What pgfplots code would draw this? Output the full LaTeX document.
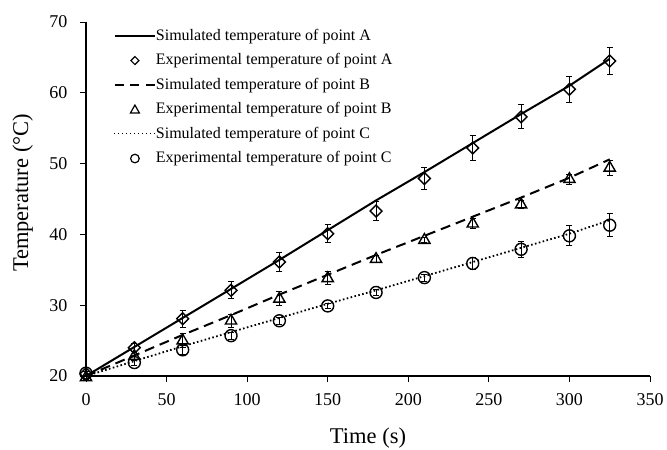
\documentclass[border=0pt]{standalone}
\usepackage{fontspec}
\setmainfont{Liberation Serif}
\usepackage{pgfplots}
\usepackage{pgfplotstable}
\pgfplotsset{compat=1.18}

% time (s), temperature (deg C), error
\pgfplotstableread{
t T e
0 20.3 0.3
30 24.0 0.6
60 28.1 1.2
90 32.1 1.2
120 36.1 1.3
150 40.1 1.3
180 43.3 1.4
210 47.9 1.5
240 52.2 1.7
270 56.6 1.7
300 60.5 1.8
325 64.5 1.9
}\expA
\pgfplotstableread{
t T e
0 19.8 0.3
30 22.8 0.6
60 25.0 1.0
90 27.8 0.9
120 30.9 1.0
150 33.8 0.9
180 36.5 0.5
210 39.2 0.4
240 41.5 0.7
270 44.2 0.6
300 47.8 0.7
325 49.4 1.1
}\expB
\pgfplotstableread{
t T e
0 20.4 0.3
30 21.9 0.4
60 23.7 0.6
90 25.7 0.5
120 27.8 0.5
150 29.9 0.4
180 31.8 0.4
210 33.9 0.5
240 35.9 0.8
270 37.9 1.1
300 39.8 1.4
325 41.3 1.6
}\expC
% simulated curves
\pgfplotstableread{
t A B C
0 20.0 20.0 20.0
30 24.1 22.9 22.1
60 28.2 25.8 24.2
90 32.3 28.6 26.2
120 36.4 31.5 28.2
150 40.6 34.3 30.2
180 44.8 37.1 32.1
210 48.8 39.8 34.1
240 52.9 42.5 36.1
270 57.0 45.2 38.1
300 61.0 48.0 40.1
325 64.8 50.6 42.0
}\sim

\newcommand\legfont{\fontsize{16}{18}\selectfont}

\begin{document}
\begin{tikzpicture}
\path[use as bounding box] (0,0) rectangle (667pt,-450pt);
\begin{axis}[
  scale only axis,
  width=564pt, height=354pt,
  anchor=south west, at={(86pt,-376pt)},
  xmin=0, xmax=350, ymin=20, ymax=70,
  xtick={0,50,...,350}, ytick={20,30,...,70},
  axis x line*=bottom, axis y line*=left,
  axis line style={line width=1.6pt, -},
  tick style={line width=1pt, black},
  tick align=outside, major tick length=6pt,
  /pgf/number format/assume math mode=true,
  ticklabel style={font=\fontsize{18}{20}\selectfont},
  xticklabel style={yshift=-8pt},
  yticklabel style={xshift=-9pt},
  xlabel={Time (s)}, ylabel={Temperature (°C)},
  label style={font=\fontsize{22.5}{24}\selectfont},
  xlabel style={at={(axis description cs:0.5,-0.192)}, anchor=base},
  ylabel style={at={(axis description cs:-0.1028,0.517)}, anchor=base},
  clip=false,
  legend cell align=left,
  legend style={draw=none, fill=none, at={(axis description cs:0.048,0.98)},
    anchor=north west, inner sep=0pt, row sep=10pt,
    font=\legfont,
    nodes={inner sep=0pt, text height=11pt, text depth=3.5pt, font=\legfont},
    /tikz/every even column/.append style={column sep=7pt}},
  error bars/error bar style={line width=1pt, black},
  error bars/error mark options={rotate=90, mark size=3pt, line width=1pt, black},
]
\addplot[black, line width=2pt,
  legend image code/.code={\draw[black, line width=2pt] (0pt,1pt) -- (40pt,1pt);}]
  table[x=t, y=A] {\sim};
\addlegendentry{Simulated temperature of point A}
\addplot[only marks, black, mark=square, mark size=4.2pt,
  mark options={rotate=45, line width=1.4pt, fill=none},
  error bars/.cd, y dir=both, y explicit,
  /pgfplots/legend image code/.code={\path[draw=none, fill=none] (0pt,1pt) -- (40pt,1pt);
    \draw[black, line width=1.2pt]
    (20pt,4.5pt) -- (24pt,0.5pt) -- (20pt,-3.5pt) -- (16pt,0.5pt) -- cycle;}]
  table[x=t, y=T, y error=e] {\expA};
\addlegendentry{Experimental temperature of point A}
\addplot[black, line width=2pt, dash pattern=on 10pt off 6pt,
  legend image code/.code={\draw[black, line width=2pt, dash pattern=on 9pt off 6.5pt] (0pt,1pt) -- (40pt,1pt);}]
  table[x=t, y=B] {\sim};
\addlegendentry{Simulated temperature of point B}
\addplot[only marks, black, mark=triangle, mark size=6.5pt,
  mark options={line width=1.4pt, fill=none},
  error bars/.cd, y dir=both, y explicit,
  /pgfplots/legend image code/.code={\path[draw=none, fill=none] (0pt,1pt) -- (40pt,1pt);
    \draw[black, line width=1.2pt]
    (20pt,5pt) -- (24.5pt,-3pt) -- (15.5pt,-3pt) -- cycle;}]
  table[x=t, y=T, y error=e] {\expB};
\addlegendentry{Experimental temperature of point B}
\addplot[black, line width=1.8pt, dash pattern=on 1.6pt off 2.4pt,
  legend image code/.code={\draw[black, line width=1.3pt, dash pattern=on 1.3pt off 2.7pt] (-1pt,1pt) -- (40pt,1pt);}]
  table[x=t, y=C] {\sim};
\addlegendentry{Simulated temperature of point C}
\addplot[only marks, black, mark=o, mark size=6pt,
  mark options={line width=1.4pt, fill=none},
  error bars/.cd, y dir=both, y explicit,
  /pgfplots/legend image code/.code={\path[draw=none, fill=none] (0pt,1pt) -- (40pt,1pt);
    \draw[black, line width=1.2pt]
    (20pt,0.5pt) circle (4.3pt);}]
  table[x=t, y=T, y error=e] {\expC};
\addlegendentry{Experimental temperature of point C}
\end{axis}
\end{tikzpicture}
\end{document}
